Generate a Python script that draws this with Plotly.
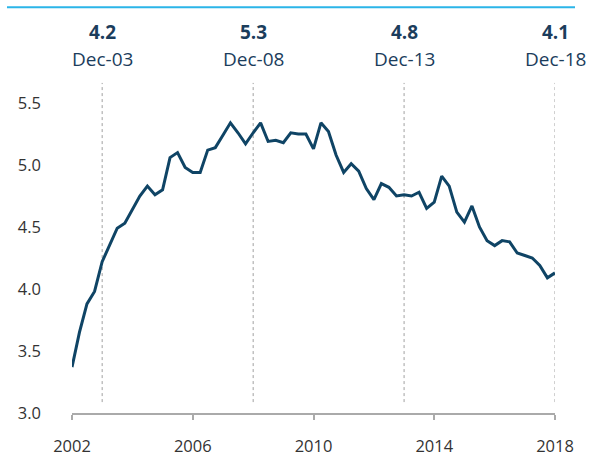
import pandas as pd
import plotly.graph_objects as go

# Quarterly series, Dec-02 to Dec-18
quarters = pd.date_range("2002-12-31", "2018-12-31", freq="QE")
values = [
    3.37,
    3.65, 3.88, 3.98, 4.22,
    4.36, 4.49, 4.53, 4.64,
    4.75, 4.83, 4.76, 4.80,
    5.06, 5.10, 4.98, 4.94,
    4.94, 5.12, 5.14, 5.24,
    5.34, 5.26, 5.17, 5.26,
    5.34, 5.19, 5.20, 5.18,
    5.26, 5.25, 5.25, 5.13,
    5.34, 5.27, 5.08, 4.94,
    5.01, 4.95, 4.81, 4.72,
    4.85, 4.82, 4.75, 4.76,
    4.75, 4.78, 4.65, 4.70,
    4.91, 4.83, 4.62, 4.54,
    4.67, 4.50, 4.39, 4.35,
    4.39, 4.38, 4.29, 4.27,
    4.25, 4.19, 4.09, 4.13,
]

# Highlighted quarters and axis ticks
callout_dates = ["2003-12-31", "2008-12-31", "2013-12-31", "2018-12-31"]
callout_names = ["Dec-03", "Dec-08", "Dec-13", "Dec-18"]
tick_dates = ["2002-12-31", "2006-12-31", "2010-12-31", "2014-12-31", "2018-12-31"]
tick_labels = ["2002", "2006", "2010", "2014", "2018"]
y_ticks = [3.0, 3.5, 4.0, 4.5, 5.0, 5.5]

series = pd.Series(values, index=quarters)

NAVY = "#0f4465"
TEXT = "#1b3d5c"
FONT = "Open Sans"

fig = go.Figure()
fig.add_trace(go.Scatter(
    x=series.index, y=series.values, mode="lines",
    line=dict(color=NAVY, width=3), hoverinfo="x+y",
))

shapes = []
annotations = []
for d, name in zip(callout_dates, callout_names):
    v = series[pd.Timestamp(d)]
    shapes.append(dict(
        type="line", xref="x", yref="paper", x0=d, x1=d, y0=0.032, y1=0.968,
        line=dict(color="#a0a0a0", width=1, dash="dot"), layer="below",
    ))
    annotations.append(dict(
        x=d, xref="x", y=1.117, yref="paper", text=f"<b>{v:.1f}</b>",
        showarrow=False, font=dict(family=FONT, size=19, color=TEXT),
        xanchor="center", yanchor="middle",
    ))
    annotations.append(dict(
        x=d, xref="x", y=1.039, yref="paper", text=name,
        showarrow=False, font=dict(family=FONT, size=19, color=TEXT),
        xanchor="center", yanchor="middle",
    ))

# Accent rule across the top
shapes.append(dict(
    type="line", xref="paper", yref="paper", x0=-0.1346, x1=1.0414, y0=1.19, y1=1.19,
    line=dict(color="#2bb5e8", width=2),
))

fig.update_layout(
    width=590, height=458,
    margin=dict(l=72, r=35, t=72, b=45),
    paper_bgcolor="white", plot_bgcolor="white",
    showlegend=False,
    shapes=shapes, annotations=annotations,
    font=dict(family=FONT, size=16, color="#333333"),
)
fig.update_xaxes(
    type="date", range=["2002-12-31", "2018-12-31"],
    tickvals=tick_dates, ticktext=tick_labels,
    showgrid=False, zeroline=False, automargin=False,
    showline=True, linecolor="#aaaaaa", linewidth=1.5,
    ticks="outside", ticklen=5, tickcolor="#aaaaaa", tickwidth=1.5,
    ticklabelstandoff=12,
    tickfont=dict(family=FONT, size=16.5, color="#333333"),
)
fig.update_yaxes(
    range=[3.0, 5.75], tickvals=y_ticks, ticktext=[f"{t:.1f}" for t in y_ticks],
    showgrid=False, zeroline=False, showline=False, ticks="", automargin=False,
    ticklabelstandoff=30,
    tickfont=dict(family=FONT, size=16.5, color="#333333"),
)

fig.write_html("out.html")
